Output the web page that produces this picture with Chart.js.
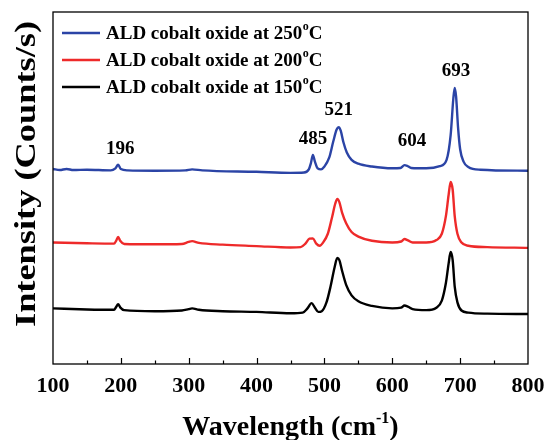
<!DOCTYPE html>
<html>
<head>
<meta charset="utf-8">
<script src="https://cdn.jsdelivr.net/npm/chart.js@4"></script>
<style>
  html,body{margin:0;padding:0;background:#fff;}
  #wrap{width:545px;height:440px;}
</style>
</head>
<body>
<div id="wrap"><canvas id="c" width="545" height="440"></canvas></div>
<script>
// ---------- data (wavenumber, intensity a.u.) ----------
const WN_250 = [100,110,120,130,150,185,192,196,200,210,250,295,305,320,400,450,470,477,480,483,486,490,495,500,507,513,518,521,524,528,533,540,550,570,600,612,618,622,628,650,670,680,686,690,692,694,697,700,705,712,730,800];
const I_250  = [55.4,55.1,55.4,55.1,55.2,55.0,55.6,56.6,55.4,55.0,54.9,55.0,55.3,55.0,54.6,54.3,54.4,55.3,57.0,59.4,57.5,55.6,55.3,56.1,58.6,63.2,66.6,67.3,66.3,63.0,60.1,58.0,56.9,56.1,55.6,55.7,56.5,56.3,55.7,55.6,56.2,58.0,65.0,75.5,78.4,76.0,67.0,61.0,57.5,56.0,55.2,54.9];

const WN_200 = [100,150,190,193,196,199,205,250,290,300,305,315,350,400,450,465,472,478,483,488,493,498,505,511,516,519,522,526,532,540,550,570,600,613,618,623,630,650,665,673,679,683,686,689,692,696,702,712,740,800];
const I_200  = [34.5,34.3,34.2,35.0,36.1,35.0,34.1,34.0,34.1,34.7,34.9,34.4,33.9,33.5,33.1,33.2,34.2,35.6,35.7,34.2,33.6,34.5,37.0,41.5,45.6,46.9,46.0,43.0,40.0,37.5,36.2,35.0,34.5,34.8,35.5,35.1,34.5,34.5,35.2,37.0,42.0,48.0,51.7,49.5,42.0,37.0,34.5,33.6,33.2,33.0];

const WN_150 = [100,150,190,193,196,199,205,250,290,300,305,315,350,400,450,468,475,481,486,491,496,503,509,515,519,522,526,532,540,550,570,600,613,618,623,630,650,665,673,679,683,686,689,692,696,702,712,740,800];
const I_150  = [15.8,15.5,15.4,16.2,17.0,16.1,15.3,15.0,15.2,15.6,15.8,15.4,15.0,14.8,14.4,14.6,15.8,17.3,16.0,14.8,15.0,17.5,22.0,27.5,30.1,29.5,26.5,22.5,19.5,17.8,16.5,15.8,16.0,16.6,16.3,15.6,15.3,16.0,18.0,23.0,28.5,31.8,29.5,22.0,17.5,15.2,14.6,14.3,14.2];

const SERIES_NAMES = ['ALD cobalt oxide at 250', 'ALD cobalt oxide at 200', 'ALD cobalt oxide at 150'];
const SERIES_COLORS = ['#2b44a6', '#ee2a2a', '#000000'];

// peak labels: text, wavenumber, intensity
const PEAK_TEXT = ['196', '485', '521', '604', '693'];
const PEAK_X    = [199, 483, 521, 629, 694];
const PEAK_Y    = [61.0, 64.0, 72.0, 63.2, 83.3];

const X_MIN = 100, X_MAX = 800, X_STEP = 100, X_MINOR = 50;
const Y_MIN = 0, Y_MAX = 100;

const SERIF = '"Liberation Serif", "Times New Roman", serif';

const toPts = (xs, ys) => xs.map((x, i) => ({x, y: ys[i]}));

// ---------- frame, ticks, legend, labels, titles ----------
const decor = {
  id: 'decor',
  afterDraw(chart){
    const ctx = chart.ctx, a = chart.chartArea;
    const xs = chart.scales.x, ys = chart.scales.y;
    ctx.save();
    // frame
    ctx.strokeStyle = '#000'; ctx.lineWidth = 1.3;
    ctx.strokeRect(a.left, a.top, a.right - a.left, a.bottom - a.top);
    // inward ticks on bottom axis
    ctx.lineWidth = 1.2;
    for(let v = X_MIN + X_MINOR; v < X_MAX; v += X_MINOR){
      const px = Math.round(xs.getPixelForValue(v)) + 0.5;
      const len = (v % X_STEP === 0) ? 6 : 3.5;
      ctx.beginPath(); ctx.moveTo(px, a.bottom); ctx.lineTo(px, a.bottom - len); ctx.stroke();
    }
    // legend
    const rows = [33, 60, 87];
    ctx.textBaseline = 'middle'; ctx.textAlign = 'left';
    SERIES_NAMES.forEach((name, i) => {
      const y = rows[i];
      ctx.strokeStyle = SERIES_COLORS[i]; ctx.lineWidth = 2.5;
      ctx.beginPath(); ctx.moveTo(62, y); ctx.lineTo(100, y); ctx.stroke();
      ctx.fillStyle = '#000';
      ctx.font = 'bold 19px ' + SERIF;
      ctx.fillText(name, 106, y + 1);
      let w = ctx.measureText(name).width;
      ctx.font = 'bold 12px ' + SERIF;
      ctx.fillText('o', 106 + w + 0.5, y - 6);
      w += ctx.measureText('o').width + 0.5;
      ctx.font = 'bold 19px ' + SERIF;
      ctx.fillText('C', 106 + w, y + 1);
    });
    // peak labels
    ctx.font = 'bold 19px ' + SERIF; ctx.textAlign = 'center';
    PEAK_TEXT.forEach((t, i) => {
      ctx.fillText(t, xs.getPixelForValue(PEAK_X[i]), ys.getPixelForValue(PEAK_Y[i]));
    });
    // x title with superscript
    const cx = (a.left + a.right) / 2, by = 435;
    ctx.textBaseline = 'alphabetic'; ctx.textAlign = 'left';
    ctx.font = 'bold 28px ' + SERIF;
    const p1 = 'Wavelength (cm', p3 = ')';
    const w1 = ctx.measureText(p1).width, w3 = ctx.measureText(p3).width;
    ctx.font = 'bold 16px ' + SERIF;
    const w2 = ctx.measureText('-1').width;
    let x0 = cx - (w1 + w2 + w3) / 2;
    ctx.font = 'bold 28px ' + SERIF; ctx.fillText(p1, x0, by);
    ctx.font = 'bold 16px ' + SERIF; ctx.fillText('-1', x0 + w1, by - 12);
    ctx.font = 'bold 28px ' + SERIF; ctx.fillText(p3, x0 + w1 + w2, by);
    // y title, stretched along its length as in the source figure
    ctx.translate(27, 174);
    ctx.rotate(-Math.PI / 2);
    ctx.textAlign = 'center'; ctx.textBaseline = 'middle';
    ctx.font = 'bold 30px ' + SERIF;
    const yt = 'Intensity (Counts/s)';
    ctx.scale(306 / ctx.measureText(yt).width, 1);
    ctx.fillText(yt, 0, 0);
    ctx.restore();
  }
};

new Chart(document.getElementById('c').getContext('2d'), {
  type: 'line',
  data: {
    datasets: [
      {data: toPts(WN_250, I_250), borderColor: SERIES_COLORS[0]},
      {data: toPts(WN_200, I_200), borderColor: SERIES_COLORS[1]},
      {data: toPts(WN_150, I_150), borderColor: SERIES_COLORS[2]}
    ].map(d => Object.assign(d, {borderWidth: 2.4, pointRadius: 0, fill: false, cubicInterpolationMode: 'monotone'}))
  },
  options: {
    responsive: false, animation: false, devicePixelRatio: 1,
    layout: {padding: {top: 12, right: 17, left: 0, bottom: 0}},
    plugins: {legend: {display: false}, tooltip: {enabled: false}},
    scales: {
      x: {
        type: 'linear', min: X_MIN, max: X_MAX,
        grid: {display: false, drawTicks: false},
        border: {display: false},
        ticks: {stepSize: X_STEP, padding: 9, color: '#000', font: {family: SERIF, size: 22, weight: 'bold'}, maxRotation: 0},
        afterFit: s => { s.height = 76; s.paddingLeft = 0; s.paddingRight = 0; }
      },
      y: {
        min: Y_MIN, max: Y_MAX,
        grid: {display: false, drawTicks: false},
        border: {display: false},
        ticks: {display: false},
        afterFit: s => { s.width = 53; }
      }
    }
  },
  plugins: [decor]
});
</script>
</body>
</html>
